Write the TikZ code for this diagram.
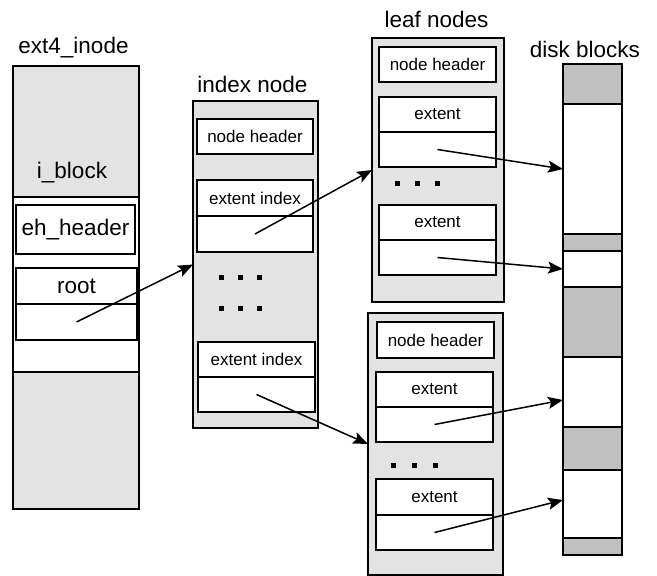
\documentclass[tikz,border=0pt]{standalone}
\usepackage{fontspec}
\setmainfont{Liberation Sans}
\usetikzlibrary{arrows.meta}
\definecolor{panelgray}{HTML}{E3E3E3}
\definecolor{diskgray}{HTML}{C0C0C0}
\begin{document}
\begin{tikzpicture}[x=1pt,y=-1pt,
  box/.style={draw=black, line width=1.3pt, anchor=north west, inner sep=0pt, outer sep=0pt, rectangle},
  panel/.style={box, fill=panelgray},
  cell/.style={box, fill=white, font=\fontsize{17}{20}\selectfont},
  bigcell/.style={box, fill=white, font=\fontsize{22.5}{27}\selectfont},
  disk/.style={box, fill=diskgray, minimum width=59pt},
  dwhite/.style={box, fill=white, minimum width=59pt},
  title/.style={anchor=base, inner sep=0pt, font=\fontsize{22.5}{27}\selectfont},
  dot/.style={rectangle, fill=black, minimum size=5pt, inner sep=0pt},
  arr/.style={line width=1.5pt, -{Stealth[length=15pt,width=12pt,inset=3pt]}}]
\useasboundingbox (0,0) rectangle (657,576);

% ext4_inode
\node[title] (tinode) at (73.5,53) {ext4\_inode};
\node[panel, minimum width=126pt, minimum height=443pt] (inode) at (13,66) {};
\node[box, fill=white, minimum width=126pt, minimum height=175pt] (iwhite) at (13,197) {};
\node[title] (iblock) at (72,178) {i\_block};
\node[bigcell, minimum width=119pt, minimum height=49pt] (eh) at (16,205) {eh\_header};
\node[bigcell, minimum width=121pt, minimum height=36pt] (roott) at (16,268) {root};
\node[bigcell, minimum width=121pt, minimum height=36pt] (rootb) at (16,304) {};

% index node
\node[title] (tindex) at (252.5,92) {index node};
\node[panel, minimum width=125pt, minimum height=327pt] (idx) at (193,101) {};
\node[cell, minimum width=116pt, minimum height=35pt] (inh) at (197,119) {node header};
\node[cell, minimum width=116pt, minimum height=36pt] (ei1t) at (197,180) {extent index};
\node[cell, minimum width=116pt, minimum height=36pt] (ei1b) at (197,216) {};
\node[dot] (id1) at (221,277) {};
\node[dot] (id2) at (240,277) {};
\node[dot] (id3) at (259,277) {};
\node[dot] (id4) at (221,308) {};
\node[dot] (id5) at (240,308) {};
\node[dot] (id6) at (259,308) {};
\node[cell, minimum width=117pt, minimum height=35pt] (ei2t) at (198,342) {extent index};
\node[cell, minimum width=117pt, minimum height=35pt] (ei2b) at (198,377) {};

% leaf node A
\node[title] (tleaf) at (436.5,27) {leaf nodes};
\node[panel, minimum width=132pt, minimum height=264pt] (leafA) at (372,38) {};
\node[cell, minimum width=117pt, minimum height=35pt] (anh) at (379,47) {node header};
\node[cell, minimum width=117pt, minimum height=35pt] (a1t) at (379,97) {extent};
\node[cell, minimum width=117pt, minimum height=35pt] (a1b) at (379,132) {};
\node[dot] (ad1) at (397,183) {};
\node[dot] (ad2) at (417,183) {};
\node[dot] (ad3) at (437,183) {};
\node[cell, minimum width=117pt, minimum height=35pt] (a2t) at (379,205) {extent};
\node[cell, minimum width=117pt, minimum height=35pt] (a2b) at (379,240) {};

% leaf node B
\node[panel, minimum width=135pt, minimum height=262pt] (leafB) at (368,313) {};
\node[cell, minimum width=117pt, minimum height=36pt] (bnh) at (377,322) {node header};
\node[cell, minimum width=117pt, minimum height=35pt] (b1t) at (376,372) {extent};
\node[cell, minimum width=117pt, minimum height=35pt] (b1b) at (376,407) {};
\node[dot] (bd1) at (393,465) {};
\node[dot] (bd2) at (414,465) {};
\node[dot] (bd3) at (435,465) {};
\node[cell, minimum width=117pt, minimum height=36pt] (b2t) at (376,479) {extent};
\node[cell, minimum width=117pt, minimum height=35pt] (b2b) at (376,515) {};

% disk blocks
\node[title] (tdisk) at (585,57) {disk blocks};
\node[disk, minimum height=40pt] (g1) at (563,64) {};
\node[dwhite, minimum height=130pt] (w1) at (563,104) {};
\node[disk, minimum height=17pt] (g2) at (563,234) {};
\node[dwhite, minimum height=36pt] (w2) at (563,251) {};
\node[disk, minimum height=70pt] (g3) at (563,287) {};
\node[dwhite, minimum height=70pt] (w3) at (563,357) {};
\node[disk, minimum height=43pt] (g4) at (563,427) {};
\node[dwhite, minimum height=68pt] (w4) at (563,470) {};
\node[disk, minimum height=17pt] (g5) at (563,538) {};

% connectors
\draw[arr] (rootb.center) -- (idx.west);
\draw[arr] (ei1b.center) -- (leafA.west);
\draw[arr] (ei2b.center) -- (leafB.west);
\draw[arr] (a1b.center) -- (w1.west);
\draw[arr] (a2b.center) -- (w2.west);
\draw[arr] (b1b.center) -- ([yshift=-8pt]w3.west);
\draw[arr] (b2b.center) -- ([yshift=4pt]w4.west);
\end{tikzpicture}
\end{document}
